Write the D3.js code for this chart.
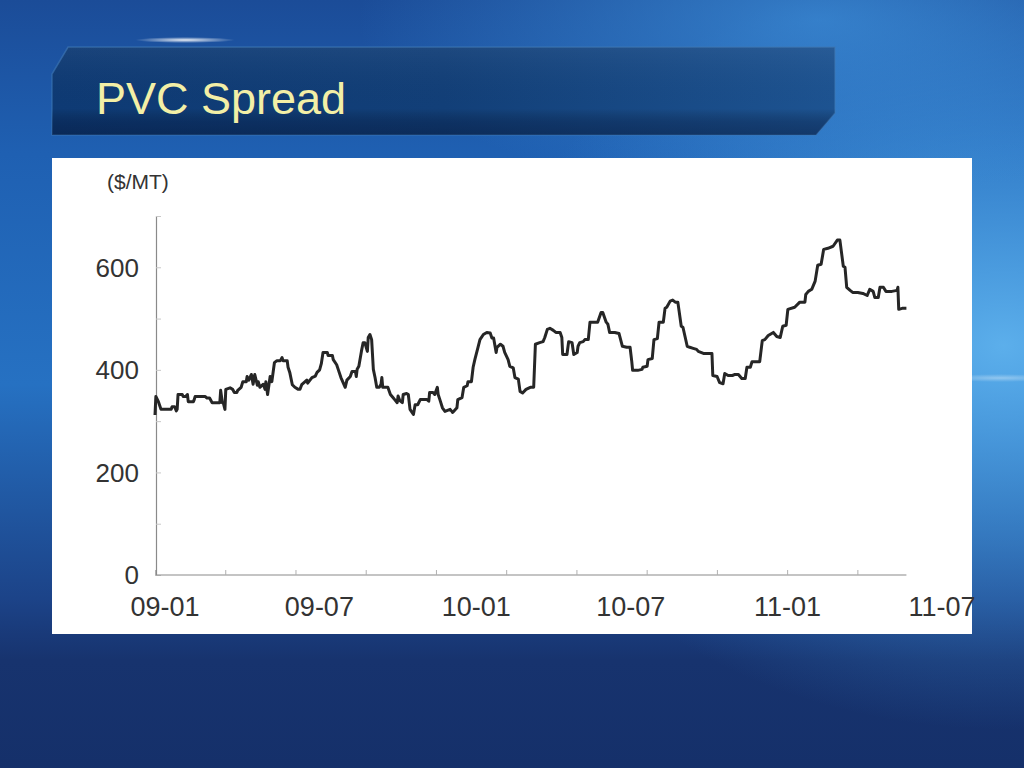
<!DOCTYPE html>
<html><head><meta charset="utf-8">
<script src="https://cdn.jsdelivr.net/npm/d3@7"></script>
<style>html,body{margin:0;padding:0;overflow:hidden;background:#1a4a96}</style>
</head><body><svg id="c" width="1024" height="768"></svg>
<script>
// ---------- data ----------
const titleText = "PVC Spread";
const unitLabel = "($/MT)";
const startDate = "2009-01-01";
const endDate = "2011-07-01";
// days since 2009-01-01 for each reading of the series
const dayOffsets = [0,1,4,7,19,20,23,25,26,27,32,33,36,38,39,45,46,47,59,61,64,67,76,77,79,80,82,83,88,91,93,96,97,101,103,107,108,110,113,115,117,120,121,123,127,129,130,132,135,137,140,143,147,149,150,155,156,158,161,164,168,170,172,176,178,179,184,188,190,193,195,197,202,203,208,209,213,215,218,223,225,229,231,235,236,237,239,242,244,246,249,250,252,254,256,258,260,263,265,266,267,273,276,279,281,284,285,287,290,291,295,297,299,303,305,308,311,319,321,322,326,328,331,332,334,337,340,346,348,349,354,355,360,362,366,367,371,373,375,379,381,385,389,393,395,397,400,401,405,408,410,414,416,420,422,426,428,431,435,440,444,446,451,455,457,460,463,467,470,475,477,478,483,485,489,491,495,496,498,502,504,508,510,519,523,525,529,531,533,539,544,548,553,557,559,560,566,571,572,577,578,583,585,589,591,596,598,600,604,607,610,613,617,619,624,627,631,635,637,640,643,653,654,659,662,666,668,672,677,680,684,688,692,694,698,700,709,712,715,719,725,729,733,736,740,742,750,756,762,763,766,770,774,777,781,784,789,795,800,803,807,809,811,815,818,824,830,835,838,842,844,848,850,854,857,864,870,871,872,876,881];
// PVC spread, $/MT
const spreadValues = [312,348,338,323,323,328,328,320,323,352,352,348,348,352,338,338,342,348,348,345,345,336,336,360,336,336,323,362,365,362,356,356,360,366,377,377,387,380,391,372,391,370,377,366,372,362,377,352,387,377,414,418,418,424,418,418,405,395,371,366,362,362,371,377,380,374,385,388,395,400,412,434,434,428,428,420,410,400,385,366,380,387,397,397,387,401,407,436,453,453,436,463,469,459,401,385,366,366,372,385,366,366,352,346,342,336,349,340,336,352,354,352,323,313,332,332,342,342,339,356,356,352,366,352,342,326,319,323,319,317,326,342,346,366,369,377,377,405,420,446,459,469,473,472,462,462,434,444,450,446,434,420,407,404,385,382,358,355,362,366,366,450,453,455,463,479,481,477,473,473,463,430,430,455,453,430,434,446,453,455,459,459,493,493,512,512,493,489,473,473,471,446,444,444,416,399,399,401,405,407,420,422,459,461,493,493,520,522,534,536,532,532,485,483,446,444,442,440,436,434,432,432,389,387,375,373,393,389,389,391,391,383,383,405,405,416,416,457,459,467,473,465,463,485,487,518,522,532,532,547,553,557,573,604,606,635,637,641,653,653,602,600,561,555,551,551,549,545,557,553,541,541,561,561,553,553,555,561,518,520,520];
const yTickValues = [0, 200, 400, 600];
const yMinorStep = 100;
const yMax = 700;
const xTickLabels = ["09-01","09-07","10-01","10-07","11-01","11-07"];
const xLabelDates = ["2009-01-01","2009-07-01","2010-01-01","2010-07-01","2011-01-01","2011-07-01"];
const xTickCount = 11;
const xTickEveryDays = 82.35;

// ---------- setup ----------
const parse = d3.timeParse("%Y-%m-%d");
const t0 = parse(startDate);
const svg = d3.select("#c");
const defs = svg.append("defs");

function lin(id, x1, y1, x2, y2, stops) {
  const g = defs.append("linearGradient").attr("id", id)
    .attr("x1", x1).attr("y1", y1).attr("x2", x2).attr("y2", y2);
  stops.forEach(s => g.append("stop").attr("offset", s[0]).attr("stop-color", s[1]).attr("stop-opacity", s[2] == null ? 1 : s[2]));
}
function rad(id, cx, cy, r, stops) {
  const g = defs.append("radialGradient").attr("id", id)
    .attr("cx", cx).attr("cy", cy).attr("r", r);
  stops.forEach(s => g.append("stop").attr("offset", s[0]).attr("stop-color", s[1]).attr("stop-opacity", s[2] == null ? 1 : s[2]));
}
lin("bg", 0, 0, 0, 1, [[0, "#1b4c98"], [0.2, "#1f60b2"], [0.5, "#2671c2"], [0.78, "#1c4388"], [0.86, "#17336e"], [1, "#15306a"]]);
rad("glowR", 0.98, 0.45, 0.5, [[0, "#62b6f0", 0.9], [0.5, "#4aa0e4", 0.5], [1, "#3a8ad8", 0]]);
rad("glowT", 0.8, 0.05, 0.45, [[0, "#3f92dc", 0.7], [1, "#3f92dc", 0]]);
lin("bar", 0, 0, 1, 0, [[0, "#0e3a74"], [0.5, "#123f78"], [1, "#1d5391"]]);
lin("barV", 0, 0, 0, 1, [[0, "#ffffff", 0.05], [0.7, "#000000", 0], [0.85, "#000822", 0.25], [1, "#000822", 0.35]]);
rad("streak", 0.5, 0.5, 0.5, [[0, "#ffffff", 0.9], [1, "#ffffff", 0]]);

svg.append("rect").attr("width", 1024).attr("height", 768).attr("fill", "url(#bg)");
svg.append("rect").attr("width", 1024).attr("height", 768).attr("fill", "url(#glowR)");
svg.append("rect").attr("width", 1024).attr("height", 400).attr("fill", "url(#glowT)");
svg.append("ellipse").attr("cx", 185).attr("cy", 40).attr("rx", 50).attr("ry", 3).attr("fill", "url(#streak)");
svg.append("ellipse").attr("cx", 1000).attr("cy", 378).attr("rx", 60).attr("ry", 4).attr("fill", "url(#streak)").attr("opacity", 0.4);

// title bar
const barPts = [[68,47],[835,47],[835,113],[816,135],[52,135],[52,74]];
svg.append("polygon").attr("points", barPts.map(p => p.join(",")).join(" "))
  .attr("fill", "url(#bar)").attr("stroke", "#3d78b8").attr("stroke-width", 1.5).attr("stroke-opacity", 0.6);
svg.append("polygon").attr("points", barPts.map(p => p.join(",")).join(" "))
  .attr("fill", "url(#barV)");
svg.append("text").attr("x", 96).attr("y", 114).text(titleText)
  .attr("font-family", "Liberation Sans, Arial, sans-serif").attr("font-size", 45)
  .attr("fill", "#f3efa6");

// white panel
svg.append("rect").attr("x", 52).attr("y", 158).attr("width", 920).attr("height", 476).attr("fill", "#ffffff");

// ---------- chart ----------
const x = d3.scaleTime().domain([t0, parse(endDate)]).range([155, 932]);
const y = d3.scaleLinear().domain([0, yMax]).range([575, 216]);
const data = dayOffsets.map((d, i) => ({ date: d3.timeDay.offset(t0, d), v: spreadValues[i] }));
const lastDate = data[data.length - 1].date;

const g = svg.append("g");
const font = "Liberation Sans, Arial, sans-serif";

// y axis
const yAxis = d3.axisRight(y).tickValues(d3.range(0, yMax + 1, yMinorStep)).tickSize(5).tickFormat("");
const ya = g.append("g").attr("transform", "translate(156,0)").call(yAxis);
ya.select(".domain").attr("stroke", "#8a8a8a").attr("stroke-width", 1.2);
ya.selectAll(".tick line").attr("stroke", "#c8c8c8");
g.selectAll("text.ylab").data(yTickValues).join("text").attr("class", "ylab")
  .attr("x", 139).attr("y", d => y(d)).attr("dy", "0.36em").attr("text-anchor", "end")
  .attr("font-family", font).attr("font-size", 26).attr("fill", "#333").text(d => d);

// x axis
const xTickDates = d3.range(xTickCount).map(k => new Date(t0.getTime() + k * xTickEveryDays * 864e5));
const xAxis = d3.axisTop(x).tickValues(xTickDates).tickSize(5).tickFormat("").tickSizeOuter(0);
const xa = g.append("g").attr("transform", "translate(0,575)").call(xAxis);
xa.select(".domain").attr("d", `M${x(t0)},0H${x(lastDate)}`).attr("stroke", "#8a8a8a").attr("stroke-width", 1.2);
xa.selectAll(".tick line").attr("stroke", "#b0b0b0");
g.selectAll("text.xlab").data(xTickLabels).join("text").attr("class", "xlab")
  .attr("x", (d, i) => x(parse(xLabelDates[i])) + 10).attr("y", 616).attr("text-anchor", "middle")
  .attr("font-family", font).attr("font-size", 27).attr("fill", "#333").text(d => d);

// unit label
g.append("text").attr("x", 107).attr("y", 189).text(unitLabel)
  .attr("font-family", font).attr("font-size", 21).attr("fill", "#333");

// line
const line = d3.line().x(d => x(d.date)).y(d => y(d.v));
g.append("path").datum(data).attr("d", line).attr("fill", "none")
  .attr("stroke", "#262626").attr("stroke-width", 3).attr("stroke-linejoin", "round");
</script></body></html>
